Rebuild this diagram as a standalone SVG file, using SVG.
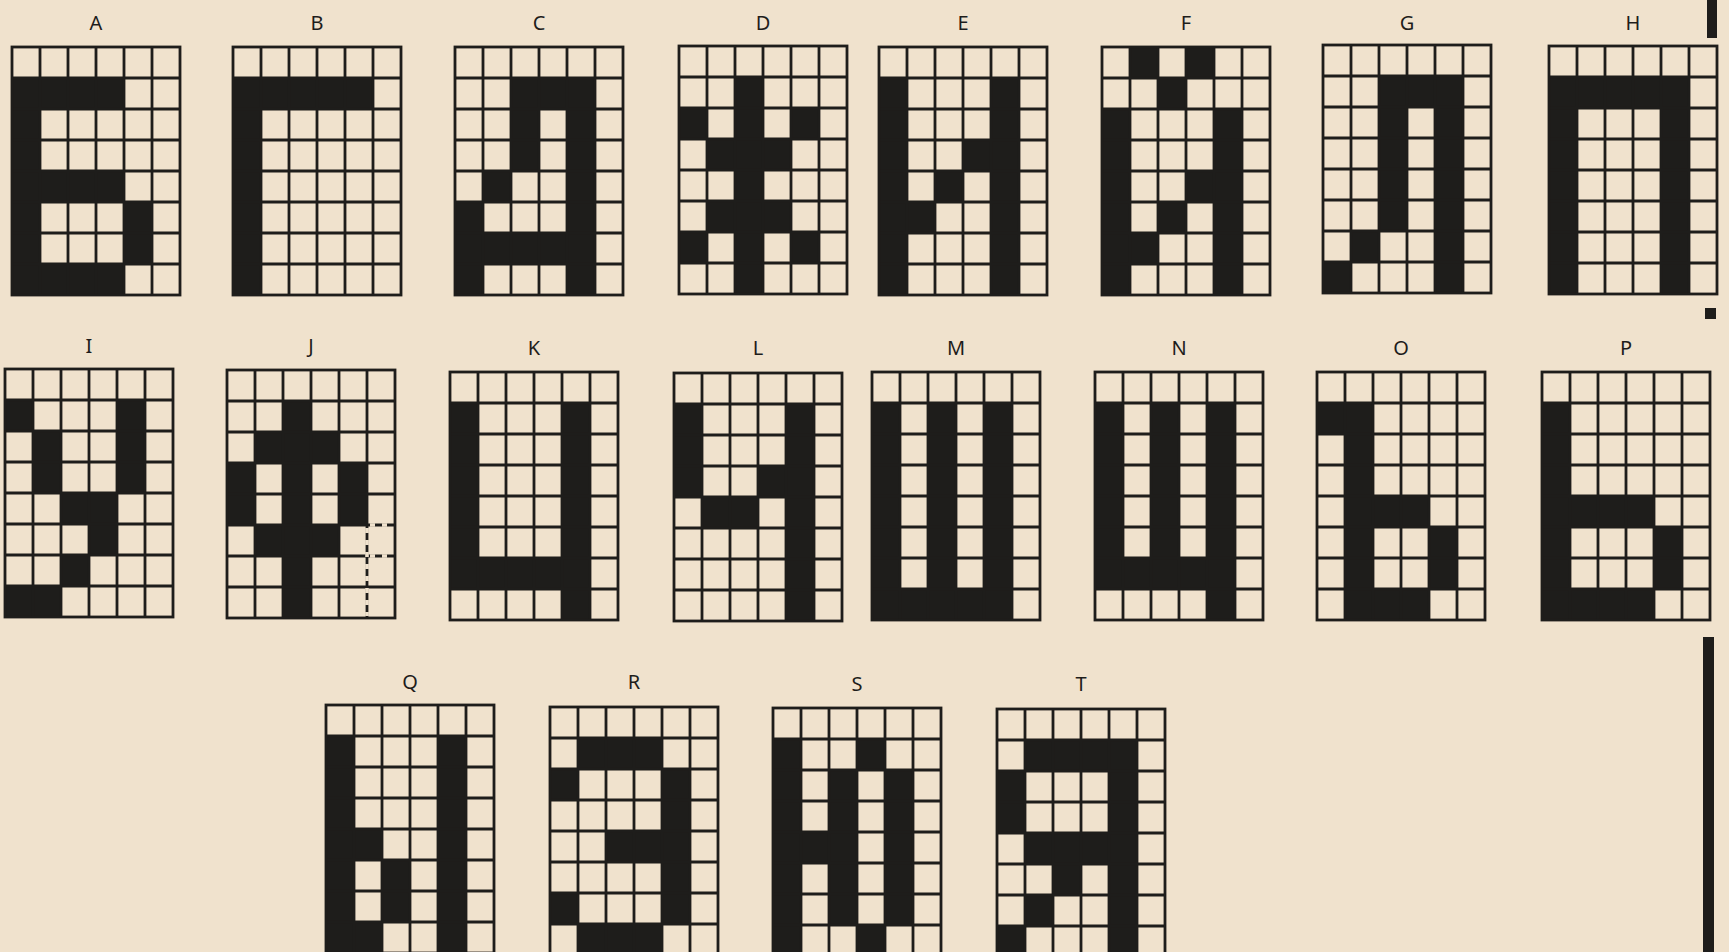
<svg xmlns="http://www.w3.org/2000/svg" xmlns:xlink="http://www.w3.org/1999/xlink" width="1729" height="952" viewBox="0 0 1729 952">
<style>
.k{fill:#1e1d1b}
.lbl{font-family:"Noto Sans","DejaVu Sans",sans-serif;font-size:20px;fill:#1e1d1b;text-anchor:middle}
.gl{fill:none;stroke:#1e1d1b;stroke-width:2.8}
.gap{fill:none;stroke:#f0e2cd;stroke-width:3.6;stroke-dasharray:5 7}
</style>
<defs>
<g id="grid">
<path class="gl" d="M28 0V248M56 0V248M84 0V248M112 0V248M140 0V248M0 31H168M0 62H168M0 93H168M0 124H168M0 155H168M0 186H168M0 217H168"/>
<rect class="gl" x="0" y="0" width="168" height="248"/>
</g>
</defs>
<rect width="1729" height="952" fill="#f0e2cd"/>

<g id="node-A" transform="translate(12,47)">
<path class="k" d="M0 31h28v217h-28zM0 31h112v31h-112zM0 124h112v31h-112zM0 217h112v31h-112zM112 155h28v62h-28z"/>
<use xlink:href="#grid"/>
<text class="lbl" x="84" y="-17">A</text>
</g>
<g id="node-B" transform="translate(233,47)">
<path class="k" d="M0 31h28v217h-28zM0 31h140v31h-140z"/>
<use xlink:href="#grid"/>
<text class="lbl" x="84" y="-17">B</text>
</g>
<g id="node-C" transform="translate(455,47)">
<path class="k" d="M56 31h84v31h-84zM56 31h28v93h-28zM112 31h28v217h-28zM28 124h28v31h-28zM0 155h28v93h-28zM0 186h140v31h-140z"/>
<use xlink:href="#grid"/>
<text class="lbl" x="84" y="-17">C</text>
</g>
<g id="node-D" transform="translate(679,46)">
<path class="k" d="M56 31h28v217h-28zM0 62h28v31h-28zM112 62h28v31h-28zM28 93h84v31h-84zM28 155h84v31h-84zM0 186h28v31h-28zM112 186h28v31h-28z"/>
<use xlink:href="#grid"/>
<text class="lbl" x="84" y="-16">D</text>
</g>
<g id="node-E" transform="translate(879,47)">
<path class="k" d="M0 31h28v217h-28zM112 31h28v217h-28zM84 93h28v31h-28zM56 124h28v31h-28zM28 155h28v31h-28z"/>
<use xlink:href="#grid"/>
<text class="lbl" x="84" y="-17">E</text>
</g>
<g id="node-F" transform="translate(1102,47)">
<path class="k" d="M28 0h28v31h-28zM84 0h28v31h-28zM56 31h28v31h-28zM0 62h28v186h-28zM112 62h28v186h-28zM84 124h28v31h-28zM56 155h28v31h-28zM28 186h28v31h-28z"/>
<use xlink:href="#grid"/>
<text class="lbl" x="84" y="-17">F</text>
</g>
<g id="node-G" transform="translate(1323,45)">
<path class="k" d="M56 31h84v31h-84zM56 31h28v155h-28zM112 31h28v217h-28zM28 186h28v31h-28zM0 217h28v31h-28z"/>
<use xlink:href="#grid"/>
<text class="lbl" x="84" y="-15">G</text>
</g>
<g id="node-H" transform="translate(1549,46)">
<path class="k" d="M0 31h140v31h-140zM0 31h28v217h-28zM112 31h28v217h-28z"/>
<use xlink:href="#grid"/>
<text class="lbl" x="84" y="-16">H</text>
</g>

<g id="node-I" transform="translate(5,369)">
<path class="k" d="M0 31h28v31h-28zM112 31h28v93h-28zM28 62h28v62h-28zM56 124h56v31h-56zM84 155h28v31h-28zM56 186h28v31h-28zM0 217h56v31h-56z"/>
<use xlink:href="#grid"/>
<text class="lbl" x="84" y="-16">I</text>
</g>
<g id="node-J" transform="translate(227,370)">
<path class="k" d="M56 31h28v217h-28zM28 62h84v31h-84zM0 93h28v62h-28zM112 93h28v62h-28zM28 155h84v31h-84z"/>
<use xlink:href="#grid"/>
<path class="gap" d="M140 158V246M143 155H166M143 186H166"/>
<text class="lbl" x="84" y="-17">J</text>
</g>
<g id="node-K" transform="translate(450,372)">
<path class="k" d="M0 31h28v186h-28zM112 31h28v217h-28zM0 186h140v31h-140z"/>
<use xlink:href="#grid"/>
<text class="lbl" x="84" y="-17">K</text>
</g>
<g id="node-L" transform="translate(674,373)">
<path class="k" d="M0 31h28v93h-28zM112 31h28v217h-28zM84 93h28v31h-28zM28 124h56v31h-56z"/>
<use xlink:href="#grid"/>
<text class="lbl" x="84" y="-18">L</text>
</g>
<g id="node-M" transform="translate(872,372)">
<path class="k" d="M0 31h28v217h-28zM56 31h28v217h-28zM112 31h28v217h-28zM0 217h140v31h-140z"/>
<use xlink:href="#grid"/>
<text class="lbl" x="84" y="-17">M</text>
</g>
<g id="node-N" transform="translate(1095,372)">
<path class="k" d="M0 31h28v186h-28zM56 31h28v186h-28zM112 31h28v217h-28zM0 186h140v31h-140z"/>
<use xlink:href="#grid"/>
<text class="lbl" x="84" y="-17">N</text>
</g>
<g id="node-O" transform="translate(1317,372)">
<path class="k" d="M0 31h56v31h-56zM28 31h28v217h-28zM28 124h84v31h-84zM112 155h28v62h-28zM28 217h84v31h-84z"/>
<use xlink:href="#grid"/>
<text class="lbl" x="84" y="-17">O</text>
</g>
<g id="node-P" transform="translate(1542,372)">
<path class="k" d="M0 31h28v217h-28zM0 124h112v31h-112zM112 155h28v62h-28zM0 217h112v31h-112z"/>
<use xlink:href="#grid"/>
<text class="lbl" x="84" y="-17">P</text>
</g>

<g id="node-Q" transform="translate(326,705)">
<path class="k" d="M0 31h28v217h-28zM112 31h28v217h-28zM28 124h28v31h-28zM56 155h28v62h-28zM28 217h28v31h-28z"/>
<use xlink:href="#grid"/>
<text class="lbl" x="84" y="-16">Q</text>
</g>
<g id="node-R" transform="translate(550,707)">
<path class="k" d="M28 31h84v31h-84zM0 62h28v31h-28zM112 62h28v155h-28zM56 124h84v31h-84zM0 186h28v31h-28zM28 217h84v31h-84z"/>
<use xlink:href="#grid"/>
<text class="lbl" x="84" y="-18">R</text>
</g>
<g id="node-S" transform="translate(773,708)">
<path class="k" d="M0 31h28v217h-28zM84 31h28v31h-28zM56 62h28v155h-28zM112 62h28v155h-28zM28 124h28v31h-28zM84 217h28v31h-28z"/>
<use xlink:href="#grid"/>
<text class="lbl" x="84" y="-17">S</text>
</g>
<g id="node-T" transform="translate(997,709)">
<path class="k" d="M28 31h112v31h-112zM0 62h28v62h-28zM112 31h28v217h-28zM28 124h112v31h-112zM56 155h28v31h-28zM28 186h28v31h-28zM0 217h28v31h-28z"/>
<use xlink:href="#grid"/>
<text class="lbl" x="84" y="-18">T</text>
</g>

<g id="connectors"></g>

<g id="edge-marks">
<rect class="k" x="1707" y="0" width="10" height="38"/>
<rect class="k" x="1705" y="308" width="11" height="11"/>
<rect class="k" x="1703" y="637" width="11" height="315"/>
</g>
</svg>
